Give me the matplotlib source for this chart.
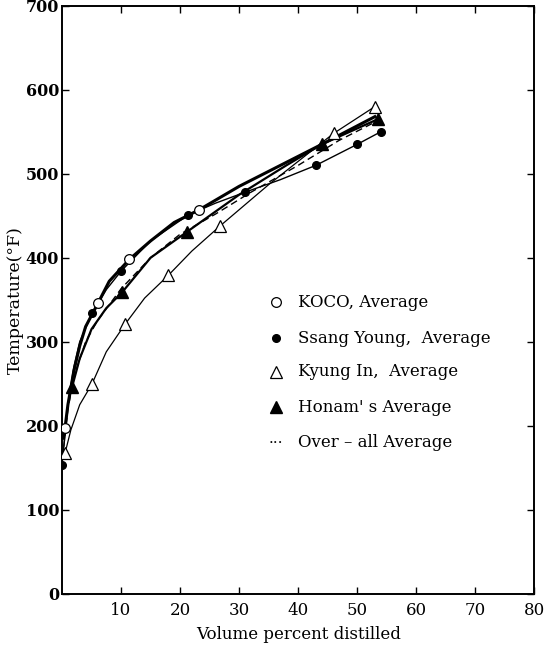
import numpy as np
import matplotlib
matplotlib.use("Agg")
import matplotlib.pyplot as plt

# -------------------------------
# DATA
# -------------------------------
# plotted markers
koco_x = [0.5, 6.1, 11.4, 23.2]
koco_y = [197, 346, 398, 457]

ssang_x = [0.0, 5.1, 10.0, 21.4, 31.0, 43.0, 50.0, 54.0]
ssang_y = [153, 334, 384, 451, 478, 510, 535, 550]

kyung_x = [0.5, 5.1, 10.7, 18.0, 26.8, 46.0, 53.0]
kyung_y = [167, 250, 321, 379, 438, 548, 580]

honam_x = [1.7, 10.2, 21.2, 44.0, 53.5]
honam_y = [246, 359, 431, 535, 565]

# drawn curves
koco_cx = [0.3, 0.5, 1.0, 2.0, 3.0, 4.0, 6.1, 8.0, 11.4, 15.0, 19.0, 23.2, 30.0, 37.0, 44.0, 53.0]
koco_cy = [185, 197, 225, 265, 295, 318, 346, 372, 398, 420, 442, 457, 485, 510, 535, 568]

ssang_cx = [0.0, 0.5, 1.0, 2.0, 3.0, 5.1, 7.5, 10.0, 15.0, 21.4, 26.0, 31.0, 37.0, 43.0, 50.0, 54.0]
ssang_cy = [153, 190, 225, 270, 300, 334, 362, 384, 420, 451, 465, 478, 493, 510, 535, 550]

kyung_cx = [0.5, 1.5, 3.0, 5.1, 7.5, 10.7, 14.0, 18.0, 22.0, 26.8, 35.0, 46.0, 53.0]
kyung_cy = [167, 195, 225, 250, 288, 321, 352, 379, 408, 438, 487, 548, 580]

honam_cx = [1.7, 3.0, 5.0, 7.5, 10.2, 15.0, 21.2, 30.0, 38.0, 44.0, 53.5]
honam_cy = [246, 280, 315, 340, 359, 400, 431, 475, 510, 535, 565]

overall_cx = [0.3, 1.0, 2.0, 4.0, 6.0, 10.0, 15.0, 20.0, 26.0, 32.0, 40.0, 47.0, 54.0]
overall_cy = [175, 220, 258, 300, 325, 363, 400, 428, 452, 478, 510, 540, 565]

legend_labels = ["KOCO, Average", "Ssang Young,  Average", "Kyung In,  Average",
                 "Honam' s Average", "Over \u2013 all Average"]

x_ticks = [10, 20, 30, 40, 50, 60, 70, 80]
y_ticks = [0, 100, 200, 300, 400, 500, 600, 700]

# -------------------------------
# PLOT
# -------------------------------
plt.rcParams["font.family"] = ["DejaVu Serif"]

fig = plt.figure(figsize=(5.44, 6.46), dpi=100)
ax = fig.add_axes([0.114, 0.081, 0.868, 0.910])

# curves
ax.plot(koco_cx, koco_cy, color="black", lw=2.2, zorder=2)
ax.plot(ssang_cx, ssang_cy, color="black", lw=1.0, zorder=2)
ax.plot(kyung_cx, kyung_cy, color="black", lw=0.9, zorder=2)
ax.plot(honam_cx, honam_cy, color="black", lw=1.6, zorder=2)
ax.plot(overall_cx, overall_cy, color="black", lw=1.0, ls=(0, (5, 3)), zorder=2)

# markers
ax.plot(koco_x, koco_y, ls="none", marker="o", ms=7, mfc="white", mec="black", mew=0.9, zorder=3)
ax.plot(ssang_x, ssang_y, ls="none", marker="o", ms=5.5, mfc="black", mec="black", zorder=3)
ax.plot(kyung_x, kyung_y, ls="none", marker="^", ms=8, mfc="white", mec="black", mew=0.9, zorder=3)
ax.plot(honam_x, honam_y, ls="none", marker="^", ms=8, mfc="black", mec="black", zorder=3)

# key written inside the plot
key_x_mark = 36.3
key_x_text = 40.0
key_y = [347, 304, 264, 222, 180]
ax.plot(key_x_mark, key_y[0], marker="o", ms=7, mfc="white", mec="black", mew=0.9)
ax.plot(key_x_mark, key_y[1], marker="o", ms=5.5, mfc="black", mec="black")
ax.plot(key_x_mark, key_y[2], marker="^", ms=8, mfc="white", mec="black", mew=0.9)
ax.plot(key_x_mark, key_y[3], marker="^", ms=8, mfc="black", mec="black")
ax.text(key_x_mark, key_y[4], "\u00b7\u00b7\u00b7", ha="center", va="center", fontsize=11)
for yy, lab in zip(key_y, legend_labels):
    ax.text(key_x_text, yy, lab, ha="left", va="center", fontsize=12)

# axes styling
ax.set_xlim(0, 80)
ax.set_ylim(0, 700)
ax.set_xticks(x_ticks)
ax.set_yticks(y_ticks)
ax.set_xticklabels([str(t) for t in x_ticks], fontsize=12)
ax.set_yticklabels([str(t) for t in y_ticks], fontsize=11.5, fontweight="bold")
ax.tick_params(axis="x", direction="in", length=5, width=1.0, top=True, pad=6)
ax.tick_params(axis="y", direction="in", length=5, width=1.0, right=True, pad=2)
for sp in ax.spines.values():
    sp.set_linewidth(1.4)

ax.set_xlabel("Volume percent distilled", fontsize=12, labelpad=5)
ax.set_ylabel("Temperature(\u00b0F)", fontsize=12.5, labelpad=1)

fig.savefig("out.png", dpi=100)
